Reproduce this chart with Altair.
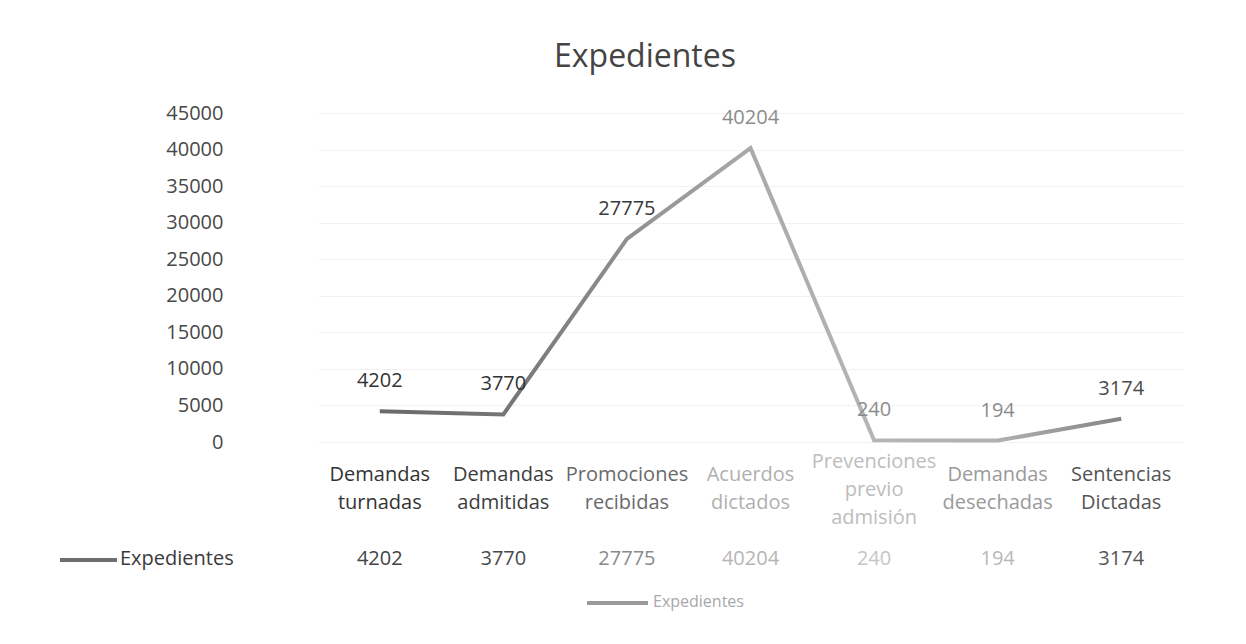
import altair as alt
import pandas as pd

categories = ["Demandas turnadas", "Demandas admitidas", "Promociones recibidas",
              "Acuerdos dictados", "Prevenciones previo admisión",
              "Demandas desechadas", "Sentencias Dictadas"]
values = [4202, 3770, 27775, 40204, 240, 194, 3174]
series_name = ["Expedientes"]
chart_title = ["Expedientes"]
y_ticks = [0, 5000, 10000, 15000, 20000, 25000, 30000, 35000, 40000, 45000]

df = pd.DataFrame({"cat": categories, "val": values})
leg = pd.DataFrame({"series": series_name})
ttl = pd.DataFrame({"t": chart_title})

FONT = "Open Sans"

# faded-scan look: per-category greys
label_colors = ["#333333", "#333333", "#3a3a3a", "#8c8c8c", "#8c8c8c", "#8c8c8c", "#4a4a4a"]
cat_colors = ["#333333", "#3d3d3d", "#6a6a6a", "#b0b0b0", "#bdbdbd", "#9a9a9a", "#555555"]
tab_colors = ["#444444", "#4a4a4a", "#8a8a8a", "#b5b5b5", "#c5c5c5", "#b8b8b8", "#555555"]

x_enc = alt.X("cat:N", sort=categories,
              scale=alt.Scale(type="point", domain=categories, range=[88, 953]),
              axis=None)
y_axis = alt.Axis(values=y_ticks, format="d", title=None, domain=False,
                  ticks=False, labelFont=FONT, labelFontSize=20,
                  labelColor="#484848", labelPadding=7, labelOverlap=False,
                  labelFlush=False, tickCount=10,
                  grid=True, gridColor="#f2f2f2", gridWidth=1)
y_enc = alt.Y("val:Q", scale=alt.Scale(domain=[0, 45000], nice=False), axis=y_axis)

grad = alt.LinearGradient(
    gradient="linear", x1=0, x2=1, y1=0, y2=0,
    stops=[alt.GradientStop(color="#6a6a6a", offset=0),
           alt.GradientStop(color="#757575", offset=0.17),
           alt.GradientStop(color="#8f8f8f", offset=0.33),
           alt.GradientStop(color="#a9a9a9", offset=0.5),
           alt.GradientStop(color="#b5b5b5", offset=0.66),
           alt.GradientStop(color="#b0b0b0", offset=0.83),
           alt.GradientStop(color="#858585", offset=1)])

line = alt.Chart(df).mark_line(color=grad, strokeWidth=4).encode(x=x_enc, y=y_enc)

labels = alt.Chart(df).mark_text(dy=-30, font=FONT, fontSize=20, baseline="middle").encode(
    x=x_enc, y=y_enc, text=alt.Text("val:Q", format="d"),
    color=alt.Color("cat:N", scale=alt.Scale(domain=categories, range=label_colors), legend=None))

cat_text = alt.Chart(df).mark_text(
    font=FONT, fontSize=20, lineBreak=" ", lineHeight=28, baseline="middle",
    dy=alt.ExprRef(expr="length(split(datum.cat, ' ')) > 2 ? -13 : 0")).encode(
    x=x_enc, y=alt.value(362), text="cat:N",
    color=alt.Color("cat:N", scale=alt.Scale(domain=categories, range=cat_colors), legend=None))

tab_text = alt.Chart(df).mark_text(font=FONT, fontSize=20, baseline="middle").encode(
    x=x_enc, y=alt.value(446), text=alt.Text("val:Q", format="d"),
    color=alt.Color("cat:N", scale=alt.Scale(domain=categories, range=tab_colors), legend=None))

tab_key_line = alt.Chart(leg).mark_rule(color="#6e6e6e", strokeWidth=4).encode(
    x=alt.value(-170), x2=alt.value(-113), y=alt.value(447))
tab_key_text = alt.Chart(leg).mark_text(font=FONT, fontSize=20, align="left",
                                        baseline="middle", color="#3a3a3a").encode(
    x=alt.value(-110), y=alt.value(446), text="series:N")

leg_line = alt.Chart(leg).mark_rule(color="#9a9a9a", strokeWidth=4).encode(
    x=alt.value(357), x2=alt.value(418), y=alt.value(490))
leg_text = alt.Chart(leg).mark_text(font=FONT, fontSize=16, align="left",
                                    baseline="middle", color="#a8a8a8").encode(
    x=alt.value(423), y=alt.value(489), text="series:N")

title_text = alt.Chart(ttl).mark_text(font=FONT, fontSize=32, baseline="alphabetic",
                                      color="#444444").encode(
    x=alt.value(415), y=alt.value(-46), text="t:N")

chart = alt.layer(line, labels, cat_text, tab_text, tab_key_line, tab_key_text,
                  leg_line, leg_text, title_text).resolve_scale(color="independent").properties(
    width=1005, height=329,
    padding={"left": 222, "top": 105, "right": 0, "bottom": 180},
    autosize=alt.AutoSizeParams(type="none"),
).configure_view(stroke=None)

chart.save("out.html", embed_options={"renderer": "svg", "actions": False})
